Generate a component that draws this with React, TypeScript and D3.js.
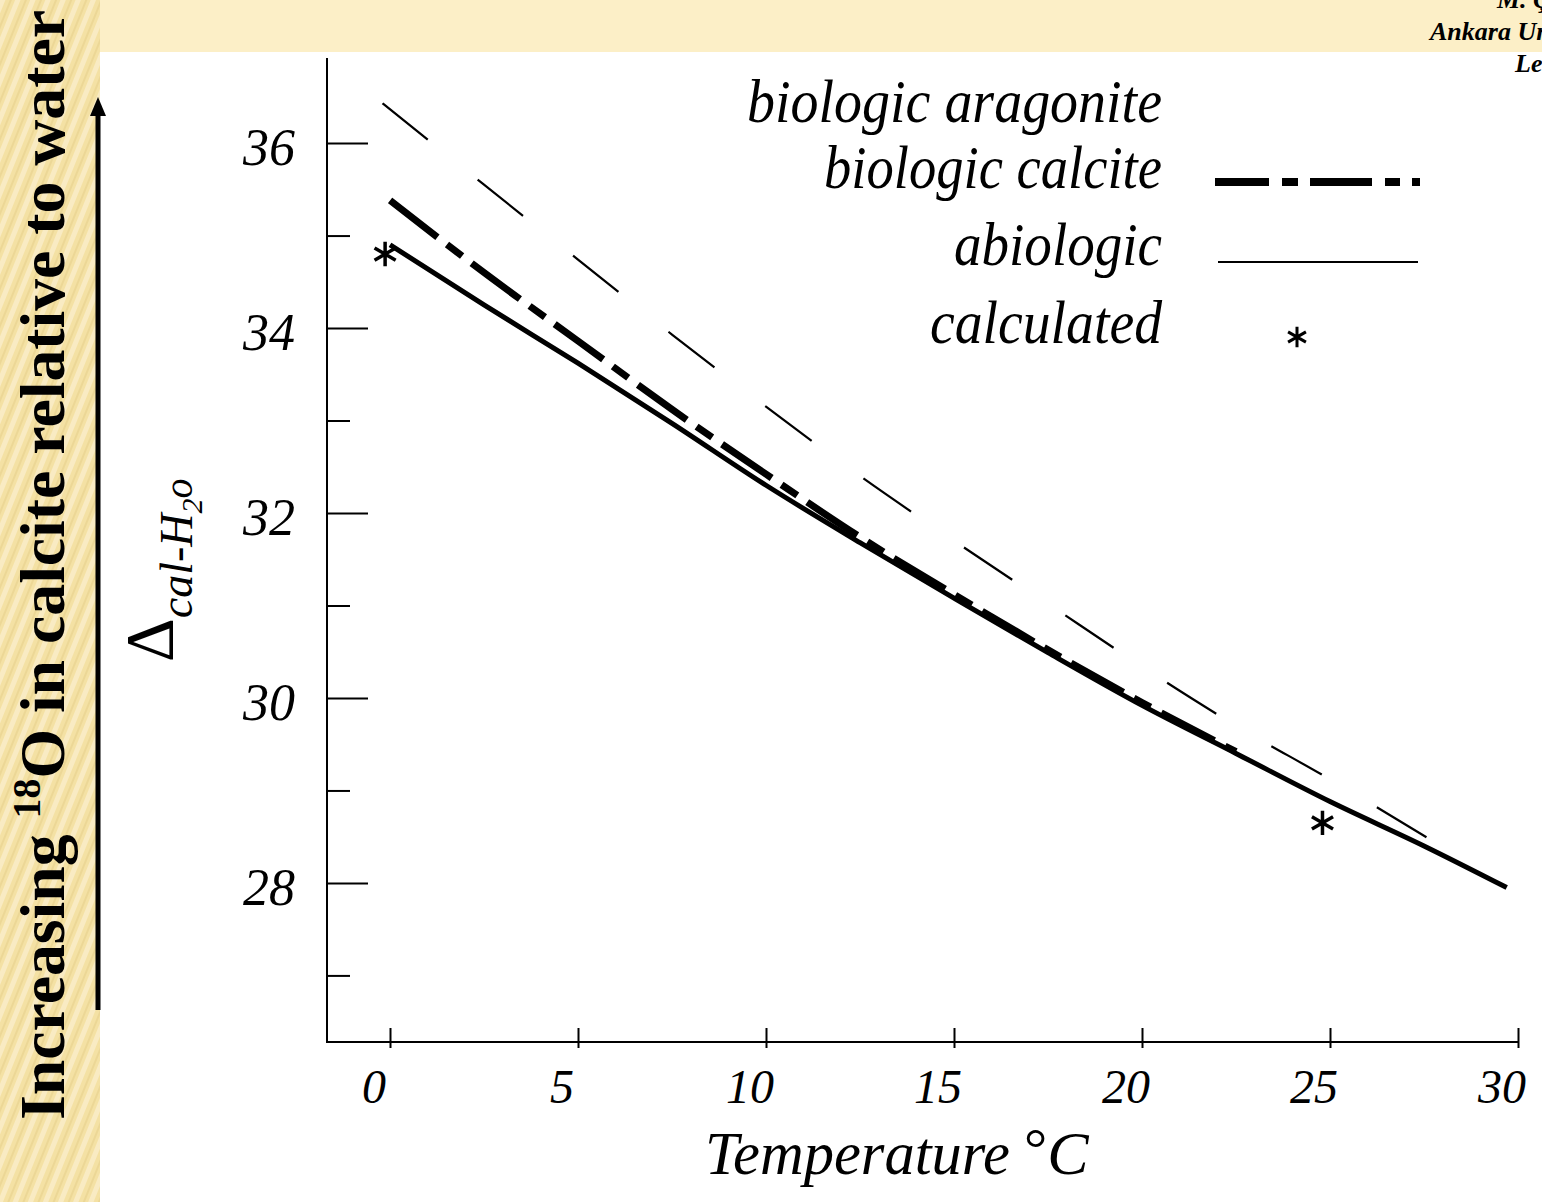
import * as d3 from "d3";
import React, { useRef, useEffect } from "react";

// values (temperature in °C, Δ in permil)
const temps = [0, 2.5, 5, 7.5, 10, 12.5, 15, 17.5, 20, 22.5, 25, 27.5, 29.7];
const abiologic = [34.9, 34.25, 33.62, 32.97, 32.3, 31.68, 31.08, 30.49, 29.92, 29.4, 28.88, 28.4, 27.95];
const calciteTemps = [0, 2.5, 5, 7.5, 10, 12.5, 15, 17.5, 20, 22.5];
const biologicCalcite = [35.38, 34.6, 33.86, 33.12, 32.42, 31.74, 31.12, 30.52, 29.95, 29.42];
const aragoniteTemps = [-0.2, 2.5, 5, 7.5, 10, 12.5, 15, 17.5, 20, 22.5, 25, 27.7];
const biologicAragonite = [36.43, 35.55, 34.74, 33.93, 33.15, 32.4, 31.7, 31.02, 30.34, 29.7, 29.12, 28.46];
const calcTemps = [-0.13, 24.8];
const calculated = [34.8, 28.65];
const xTicks = [0, 5, 10, 15, 20, 25, 30];
const yMajor = [28, 30, 32, 34, 36];
const yMinor = [27, 29, 31, 33, 35];
const legendLabels = ["biologic aragonite", "biologic calcite", "abiologic", "calculated"];

const W = 1542;
const H = 1202;
const serif = "'Liberation Serif', 'DejaVu Serif', serif";

function App() {
  const ref = useRef(null);

  useEffect(() => {
    const svg = d3.select(ref.current);
    svg.selectAll("*").remove();

    const x = d3.scaleLinear().domain([0, 30]).range([390, 1518]);
    const y = d3.scaleLinear().domain([26.28, 36.92]).range([1042, 58]);

    // slide background
    const defs = svg.append("defs");
    const pat = defs
      .append("pattern")
      .attr("id", "stripes")
      .attr("patternUnits", "userSpaceOnUse")
      .attr("width", 14)
      .attr("height", 14)
      .attr("patternTransform", "rotate(22)");
    pat.append("rect").attr("width", 14).attr("height", 14).attr("fill", "#f4e1a4");
    pat.append("rect").attr("width", 5).attr("height", 14).attr("fill", "#f9ebc3");
    pat.append("rect").attr("x", 9).attr("width", 2).attr("height", 14).attr("fill", "#ecd796");

    svg.append("rect").attr("width", W).attr("height", H).attr("fill", "#fff");
    svg.append("rect").attr("width", W).attr("height", 52).attr("fill", "#fcefc7");
    svg.append("rect").attr("width", 100).attr("height", H).attr("fill", "url(#stripes)");

    // header text (cut off at right edge, as in the slide)
    const hdr = svg
      .append("g")
      .attr("font-family", serif)
      .attr("font-weight", "bold")
      .attr("font-style", "italic")
      .attr("font-size", 26);
    hdr.append("text").attr("x", 1497).attr("y", 8).text("M. Çağatay");
    hdr.append("text").attr("x", 1430).attr("y", 40).text("Ankara University");
    hdr.append("text").attr("x", 1515).attr("y", 72).text("Lecture");

    // big rotated label + arrow
    const big = svg
      .append("text")
      .attr("transform", "translate(64,1120) rotate(-90)")
      .attr("font-family", serif)
      .attr("font-weight", "bold")
      .attr("font-size", 64)
      .attr("textLength", 1110)
      .attr("lengthAdjust", "spacingAndGlyphs");
    big.append("tspan").text("Increasing ");
    big.append("tspan").attr("font-size", 40).attr("dy", -24).text("18");
    big.append("tspan").attr("dy", 24).text("O in calcite relative to water");

    svg
      .append("line")
      .attr("x1", 98)
      .attr("x2", 98)
      .attr("y1", 1010)
      .attr("y2", 112)
      .attr("stroke", "#000")
      .attr("stroke-width", 5);
    svg
      .append("path")
      .attr("d", "M98,97 L90,116 L106,116 Z")
      .attr("fill", "#000");

    // axes lines
    const axes = svg.append("g").attr("stroke", "#000").attr("stroke-width", 2);
    axes.append("line").attr("x1", 327).attr("x2", 327).attr("y1", 58).attr("y2", 1043);
    axes.append("line").attr("x1", 326).attr("x2", x(30)).attr("y1", 1042).attr("y2", 1042);

    // y ticks (inside) via d3 axes, labels drawn separately
    const yMaj = d3.axisRight(y).tickValues(yMajor).tickSize(41).tickFormat(() => "");
    const yMin = d3.axisRight(y).tickValues(yMinor).tickSize(23).tickFormat(() => "");
    svg.append("g").attr("transform", "translate(327,0)").call(yMaj).call((g) => g.select(".domain").remove());
    svg.append("g").attr("transform", "translate(327,0)").call(yMin).call((g) => g.select(".domain").remove());
    const xAx = d3.axisTop(x).tickValues(xTicks).tickSize(20).tickFormat(() => "");
    svg
      .append("g")
      .attr("transform", "translate(0,1048)")
      .call(xAx)
      .call((g) => g.select(".domain").remove());
    svg.selectAll(".tick line").attr("stroke", "#000").attr("stroke-width", 2);

    const lab = svg.append("g").attr("font-family", serif).attr("font-style", "italic").attr("fill", "#000");
    lab
      .selectAll(".ylab")
      .data(yMajor)
      .enter()
      .append("text")
      .attr("x", 295)
      .attr("y", (d) => y(d) + 22)
      .attr("text-anchor", "end")
      .attr("font-size", 52)
      .text((d) => d);
    lab
      .selectAll(".xlab")
      .data(xTicks)
      .enter()
      .append("text")
      .attr("x", (d) => x(d) - 16)
      .attr("y", 1103)
      .attr("text-anchor", "middle")
      .attr("font-size", 48)
      .text((d) => d);

    // axis titles
    const xt = lab.append("text").attr("x", 705).attr("y", 1174).attr("font-size", 62);
    xt.append("tspan").attr("textLength", 305).attr("lengthAdjust", "spacingAndGlyphs").text("Temperature");
    xt.append("tspan").attr("dx", 14).attr("dy", -6).attr("font-style", "normal").attr("font-size", 58).text("°");
    xt.append("tspan").attr("dy", 6).attr("dx", 0).attr("font-size", 62).text("C");

    const yt = lab.append("text").attr("transform", "translate(172,662) rotate(-90)");
    yt.append("tspan").attr("font-style", "normal").attr("font-size", 68).text("Δ");
    yt.append("tspan").attr("font-size", 46).attr("dy", 20).text("cal-H");
    yt.append("tspan").attr("font-size", 30).attr("dy", 10).text("2");
    yt.append("tspan").attr("font-size", 40).attr("dy", -10).text("o");

    // curves
    const line = d3
      .line()
      .x((d) => x(d[0]))
      .y((d) => y(d[1]))
      .curve(d3.curveMonotoneX);

    svg
      .append("path")
      .datum(aragoniteTemps.map((t, i) => [t, biologicAragonite[i]]))
      .attr("d", line)
      .attr("fill", "none")
      .attr("stroke", "#000")
      .attr("stroke-width", 2.2)
      .attr("stroke-dasharray", "58 64");

    svg
      .append("path")
      .datum(temps.map((t, i) => [t, abiologic[i]]))
      .attr("d", line)
      .attr("fill", "none")
      .attr("stroke", "#000")
      .attr("stroke-width", 5);

    svg
      .append("path")
      .datum(calciteTemps.map((t, i) => [t, biologicCalcite[i]]))
      .attr("d", line)
      .attr("fill", "none")
      .attr("stroke", "#000")
      .attr("stroke-width", 7)
      .attr("stroke-dasharray", "60 12 19 12");

    const star = d3.symbol(d3.symbolAsterisk, 420);
    svg
      .selectAll(".calc")
      .data(calcTemps.map((t, i) => [t, calculated[i]]))
      .enter()
      .append("path")
      .attr("transform", (d) => `translate(${x(d[0])},${y(d[1])})`)
      .attr("d", star)
      .attr("fill", "none")
      .attr("stroke", "#000")
      .attr("stroke-width", 3.5);

    // legend
    const lg = svg.append("g").attr("font-family", serif).attr("font-style", "italic").attr("font-size", 62);
    const lgY = [122, 188, 265, 343];
    const lgW = [415, 338, 208, 232];
    lg.selectAll("text")
      .data(legendLabels)
      .enter()
      .append("text")
      .attr("x", 1162)
      .attr("y", (d, i) => lgY[i])
      .attr("text-anchor", "end")
      .attr("textLength", (d, i) => lgW[i])
      .attr("lengthAdjust", "spacingAndGlyphs")
      .text((d) => d);
    lg.append("line")
      .attr("x1", 1215)
      .attr("x2", 1422)
      .attr("y1", 182)
      .attr("y2", 182)
      .attr("stroke", "#000")
      .attr("stroke-width", 8)
      .attr("stroke-dasharray", "54 13 16 12 62 13 15 12 8");
    lg.append("line")
      .attr("x1", 1218)
      .attr("x2", 1418)
      .attr("y1", 262)
      .attr("y2", 262)
      .attr("stroke", "#000")
      .attr("stroke-width", 2);
    lg.append("path")
      .attr("transform", "translate(1297,337)")
      .attr("d", d3.symbol(d3.symbolAsterisk, 300))
      .attr("fill", "none")
      .attr("stroke", "#000")
      .attr("stroke-width", 3);
  }, []);

  return (
    <svg
      ref={ref}
      width={W}
      height={H}
      style={{ position: "absolute", left: 0, top: 0, display: "block" }}
    ></svg>
  );
}

export default App;
